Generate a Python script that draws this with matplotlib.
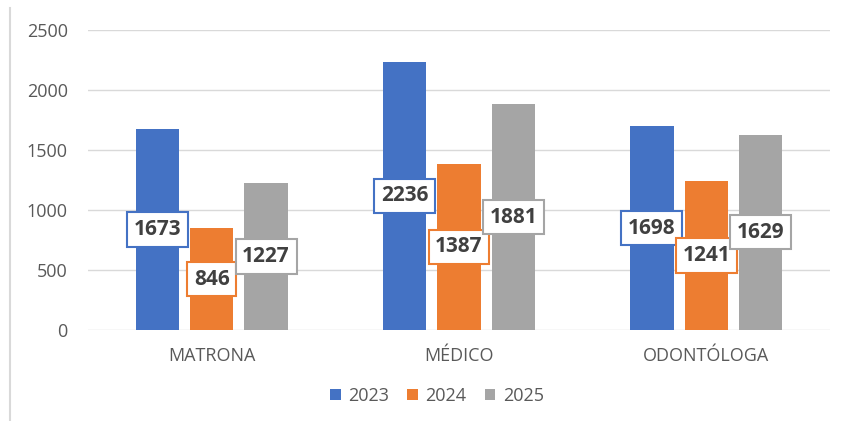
import matplotlib
matplotlib.use("Agg")
import matplotlib.pyplot as plt
import numpy as np
from matplotlib.lines import Line2D

categories = ["MATRONA", "MÉDICO", "ODONTÓLOGA"]
years = ["2023", "2024", "2025"]
values_2023 = [1673, 2236, 1698]
values_2024 = [846, 1387, 1241]
values_2025 = [1227, 1881, 1629]
yticks = [0, 500, 1000, 1500, 2000, 2500]

series = [values_2023, values_2024, values_2025]
colors = ["#4472C4", "#ED7D31", "#A5A5A5"]

plt.rcParams['font.family'] = ['Open Sans', 'DejaVu Sans']

fig = plt.figure(figsize=(8.44, 4.21), dpi=100)
ax = fig.add_axes([88/844, 1 - 330/421, (830 - 88)/844, 300/421])

x = np.arange(len(categories))
width = 0.175
offset = 0.22
for i, (vals, col, yr) in enumerate(zip(series, colors, years)):
    pos = x + (i - 1) * offset
    bars = ax.bar(pos, vals, width=width, color=col, label=yr, zorder=3)
    for b, v in zip(bars, vals):
        ax.text(b.get_x() + b.get_width() / 2, v / 2, f"{v}",
                ha="center", va="center", fontsize=15, fontweight="bold",
                color="#404040", zorder=5,
                bbox=dict(boxstyle="square,pad=0.32", facecolor="white",
                          edgecolor=col, linewidth=1.5))

ax.set_xlim(-0.5, 2.5)
ax.set_ylim(0, 2500)
ax.set_yticks(yticks)
ax.set_yticklabels([str(t) for t in yticks])
ax.set_xticks(x)
ax.set_xticklabels(categories)
ax.tick_params(axis="y", length=0, pad=14.5, labelsize=13, labelcolor="#595959")
ax.tick_params(axis="x", length=0, pad=12.5, labelsize=13, labelcolor="#595959")
ax.grid(axis="y", color="#D9D9D9", linewidth=1.0, zorder=0)
ax.set_axisbelow(True)
for s in ax.spines.values():
    s.set_visible(False)

leg = fig.legend(loc="center", bbox_to_anchor=(437/844, 1 - 396/421), ncol=3,
                 frameon=False, fontsize=13, handlelength=0.6, handleheight=0.6,
                 handletextpad=0.4, columnspacing=1.0)
for t in leg.get_texts():
    t.set_color("#595959")

fig.add_artist(Line2D([10/844, 10/844], [0, 1 - 8/421], color="#D9D9D9", linewidth=1.5))

fig.savefig("out.png", dpi=100)
